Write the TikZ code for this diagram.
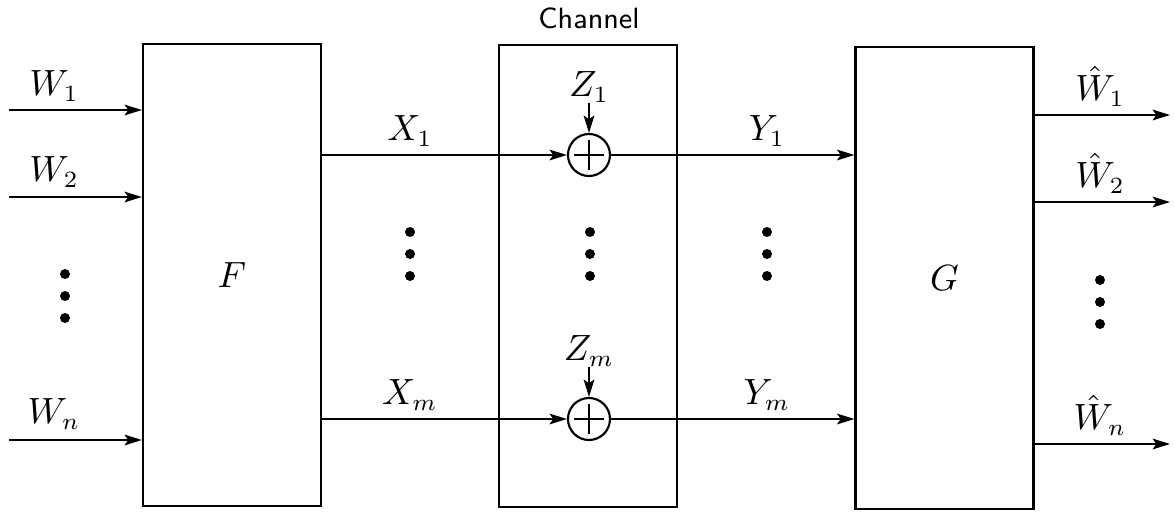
\documentclass[tikz,border=0pt]{standalone}
\usetikzlibrary{arrows.meta}
\begin{document}
\begin{tikzpicture}[x=0.3pt,y=-0.3pt,
  line width=0.65pt,
  block/.style={draw, minimum width=53.4pt, minimum height=138.6pt, inner sep=0pt},
  sig/.style={-{Stealth[length=5.2pt,width=3.2pt,inset=1.1pt]}},
  sumnode/.style={circle, draw, minimum size=12.6pt, inner sep=0pt,
    path picture={
      \draw[line width=0.4pt] ([xshift=-4.6pt]path picture bounding box.center) -- ([xshift=4.6pt]path picture bounding box.center);
      \draw[line width=0.4pt] ([yshift=-4.6pt]path picture bounding box.center) -- ([yshift=4.6pt]path picture bounding box.center);
    }},
  vdot/.style={circle, fill, inner sep=0pt, minimum size=3pt},
  lab/.style={font=\fontsize{10.5}{12}\selectfont, inner sep=0pt}]
\useasboundingbox (0,0) rectangle (1175,512);

% encoder, channel and decoder blocks
\node[block, font=\fontsize{10.5}{12}\selectfont] (F) at (232,275) {$F$};
\node[block] (C) at (588,276) {};
\node[block, font=\fontsize{10.5}{12}\selectfont] (G) at (944.5,278) {$G$};
\node[inner sep=0pt, font=\fontsize{8.8}{10}\selectfont\sffamily] (chlab) at (589,18) {Channel};

% adders inside the channel
\node[sumnode] (s1) at (589,155) {};
\node[sumnode] (sm) at (589,419) {};

% noise inputs
\coordinate (z1) at (589,103);
\coordinate (zm) at (589,367);
\node[lab] (z1lab) at (589,87) {$Z_1$};
\node[lab] (zmlab) at (589,351) {$Z_m$};
\draw[sig] (z1) -- (s1.north);
\draw[sig] (zm) -- (sm.north);

% messages into the encoder
\coordinate (w1) at (9,110);
\coordinate (w2) at (9,197);
\coordinate (wn) at (9,440);
\draw[sig] (w1) -- (w1 -| F.west);
\draw[sig] (w2) -- (w2 -| F.west);
\draw[sig] (wn) -- (wn -| F.west);
\node[lab] (w1lab) at (54,86) {$W_1$};
\node[lab] (w2lab) at (54,172) {$W_2$};
\node[lab] (wnlab) at (54,414) {$W_n$};

% channel inputs
\draw[sig] (F.east |- s1) -- (s1.west);
\draw[sig] (F.east |- sm) -- (sm.west);
\node[lab] (x1lab) at (410,131) {$X_1$};
\node[lab] (xmlab) at (410,395) {$X_m$};

% channel outputs
\draw[sig] (s1.east) -- (s1 -| G.west);
\draw[sig] (sm.east) -- (sm -| G.west);
\node[lab] (y1lab) at (767,131) {$Y_1$};
\node[lab] (ymlab) at (767,395) {$Y_m$};

% decoded messages
\coordinate (o1) at (1170,115);
\coordinate (o2) at (1170,202);
\coordinate (on) at (1170,444);
\draw[sig] (o1 -| G.east) -- (o1);
\draw[sig] (o2 -| G.east) -- (o2);
\draw[sig] (on -| G.east) -- (on);
\node[lab] (o1lab) at (1100,86) {$\hat{W}_1$};
\node[lab] (o2lab) at (1100,173) {$\hat{W}_2$};
\node[lab] (onlab) at (1100,415) {$\hat{W}_n$};

% vertical ellipses
\foreach \x/\y [count=\i] in {65/274, 410/232, 590/232, 767/232, 1100/280} {
  \node[vdot] (d\i a) at (\x,\y) {};
  \node[vdot] (d\i b) at (\x,\y+22) {};
  \node[vdot] (d\i c) at (\x,\y+44) {};
}
\end{tikzpicture}
\end{document}
